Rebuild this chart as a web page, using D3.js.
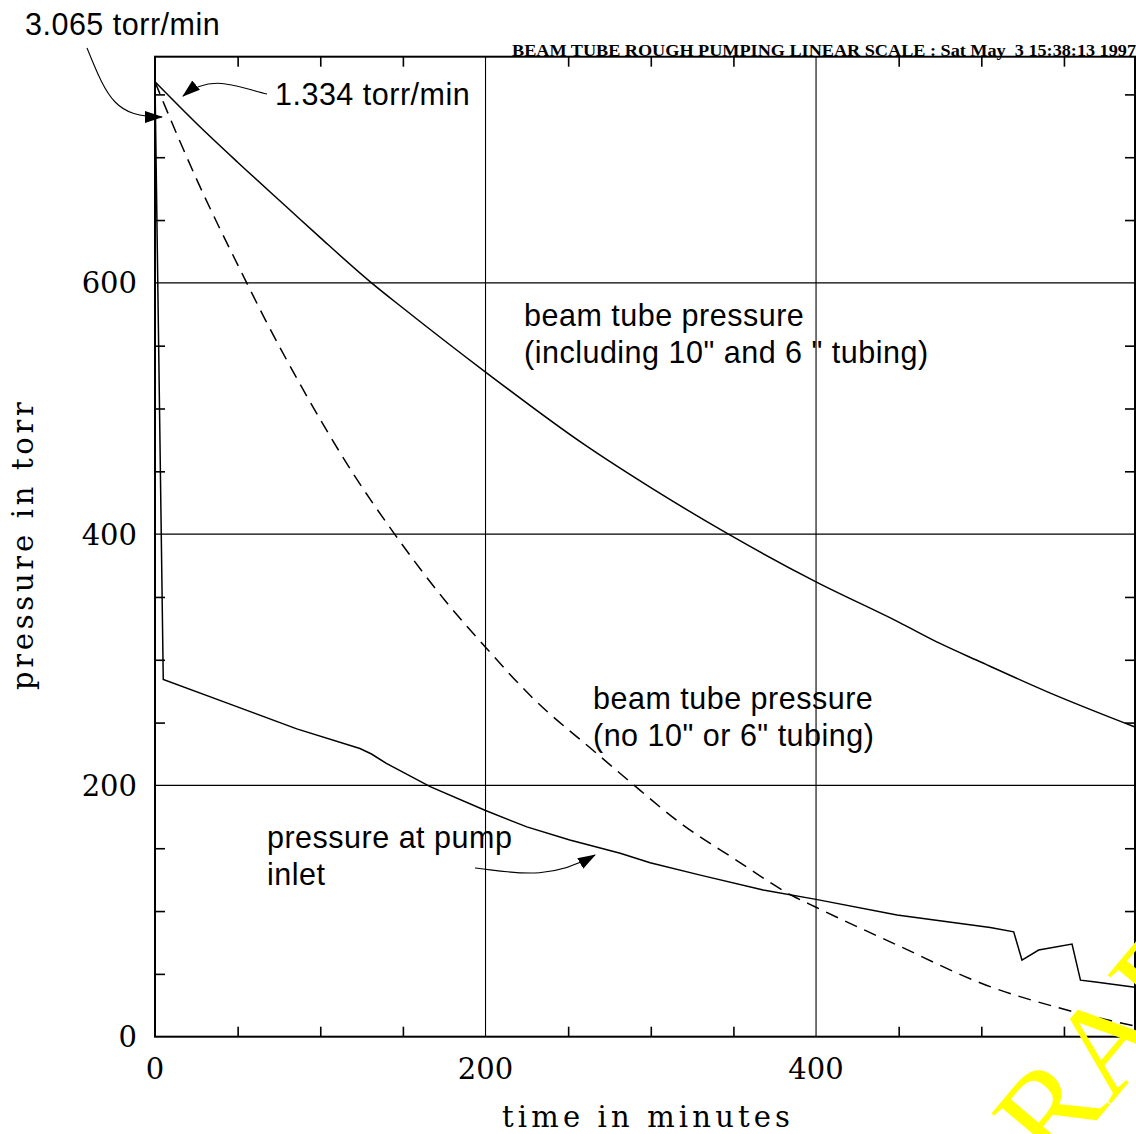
<!DOCTYPE html>
<html>
<head>
<meta charset="utf-8">
<script src="https://cdn.jsdelivr.net/npm/d3@7"></script>
<style>
  html, body { margin: 0; padding: 0; background: #fff; }
  svg { display: block; }
</style>
</head>
<body>
<svg id="chart" width="1136" height="1134"></svg>
<script>
// Beam tube rough pumping, linear scale: pressure (torr) versus time (minutes)

// beam tube pressure including the 10" and 6" tubing
const tubingTime = [0, 25, 50, 80, 100, 131, 150, 200, 259, 300, 347, 400, 450, 475, 500, 540, 593];
const tubingPressure = [760, 727, 696, 660, 636, 600, 580, 529, 472, 437, 400, 362, 330, 313, 298, 274.5, 246.5];

// beam tube pressure without the 10" or 6" tubing
const bareTime = [0, 5, 25, 55.5, 66.6, 88.8, 120, 145, 175, 200, 229, 265, 281.5, 290, 320, 350, 386, 400, 449, 503, 548, 593];
const barePressure = [760, 744, 683, 600, 571, 517, 448, 400, 348, 310, 269, 228, 209.5, 200, 168, 142, 112, 103, 73, 41, 22.6, 8.5];

// pressure at the pump inlet
const inletTime = [0, 5, 45.4, 85.8, 124, 131, 140, 166.5, 200, 225, 251, 281.5, 299.6, 330, 368, 400, 449, 505.4, 519.6, 524.6, 534.7, 554.9, 560, 568, 593];
const inletPressure = [760, 284.3, 264.7, 245, 229.4, 225, 217.5, 199, 180, 167, 156.5, 146, 138.5, 128.6, 116.7, 109.3, 96.8, 87, 83.5, 61, 69, 73.7, 45, 43.8, 39.3];

// axes
const timeDomain = [0, 593];
const pressureDomain = [0, 780];
const timeLabels = [0, 200, 400];
const pressureLabels = [0, 200, 400, 600];
const timeMinorTicks = [50, 100, 150, 250, 300, 350, 450, 500, 550];
const pressureMinorTicks = [50, 100, 150, 250, 300, 350, 450, 500, 550, 650, 700, 750];
const timeGrid = [200, 400];
const pressureGrid = [200, 400, 600];

const titleText = "BEAM TUBE ROUGH PUMPING LINEAR SCALE : Sat May  3 15:38:13 1997";
const xTitle = "time in minutes";
const yTitle = "pressure in torr";

const svg = d3.select("#chart");
const plotLeft = 155, plotRight = 1135, plotTop = 56.7, plotBottom = 1036.7;

const x = d3.scaleLinear().domain(timeDomain).range([plotLeft, plotRight]);
const y = d3.scaleLinear().domain(pressureDomain).range([plotBottom, plotTop]);

const serif = "'DejaVu Serif', 'Liberation Serif', serif";
const sans = "'Liberation Sans', Arial, Helvetica, sans-serif";

// grid lines at the labelled values
svg.append("g").selectAll("line").data(timeGrid).join("line")
  .attr("x1", d => x(d)).attr("x2", d => x(d))
  .attr("y1", plotTop).attr("y2", plotBottom)
  .attr("stroke", "#000").attr("stroke-width", 1.1);
svg.append("g").selectAll("line").data(pressureGrid).join("line")
  .attr("x1", plotLeft).attr("x2", plotRight)
  .attr("y1", d => y(d)).attr("y2", d => y(d))
  .attr("stroke", "#000").attr("stroke-width", 1.1);

// inward minor ticks on all four sides
const tickLen = 10;
function ticks(axisGen, transform) {
  const g = svg.append("g").attr("transform", transform).call(axisGen);
  g.select(".domain").remove();
  g.selectAll(".tick line").attr("stroke", "#000").attr("stroke-width", 1.6);
  g.selectAll(".tick text").remove();
}
ticks(d3.axisBottom(x).tickValues(timeMinorTicks).tickSize(-tickLen), `translate(0,${plotBottom})`);
ticks(d3.axisTop(x).tickValues(timeMinorTicks).tickSize(-tickLen), `translate(0,${plotTop})`);
ticks(d3.axisLeft(y).tickValues(pressureMinorTicks).tickSize(-tickLen), `translate(${plotLeft},0)`);
ticks(d3.axisRight(y).tickValues(pressureMinorTicks).tickSize(-tickLen), `translate(${plotRight},0)`);

// frame
svg.append("rect")
  .attr("x", plotLeft).attr("y", plotTop)
  .attr("width", plotRight - plotLeft).attr("height", plotBottom - plotTop)
  .attr("fill", "none").attr("stroke", "#000").attr("stroke-width", 2);

// tick labels
svg.append("g").selectAll("text").data(timeLabels).join("text")
  .attr("x", d => x(d)).attr("y", 1079)
  .attr("text-anchor", "middle")
  .attr("font-family", serif).attr("font-size", 29)
  .text(d => d);
svg.append("g").selectAll("text").data(pressureLabels).join("text")
  .attr("x", 137).attr("y", d => y(d) + 10.5)
  .attr("text-anchor", "end")
  .attr("font-family", serif).attr("font-size", 29)
  .text(d => d);

// axis titles
svg.append("text")
  .attr("x", 502).attr("y", 1127)
  .attr("font-family", serif).attr("font-size", 29)
  .attr("textLength", 288).attr("lengthAdjust", "spacing")
  .text(xTitle);
svg.append("text")
  .attr("transform", "translate(33,690) rotate(-90)")
  .attr("font-family", serif).attr("font-size", 29)
  .attr("textLength", 288).attr("lengthAdjust", "spacing")
  .text(yTitle);

// heading sitting on the top frame line
svg.append("text")
  .attr("x", 512).attr("y", 56)
  .attr("font-family", "'Liberation Serif', serif").attr("font-size", 16)
  .attr("font-weight", "bold")
  .style("white-space", "pre")
  .attr("textLength", 624).attr("lengthAdjust", "spacingAndGlyphs")
  .text(titleText);

// curves
const zip = (ts, ps) => ts.map((t, i) => ({ t, p: ps[i] }));
const smooth = d3.line().x(d => x(d.t)).y(d => y(d.p)).curve(d3.curveMonotoneX);
const straight = d3.line().x(d => x(d.t)).y(d => y(d.p));

svg.append("path").datum(zip(tubingTime, tubingPressure))
  .attr("d", smooth).attr("fill", "none")
  .attr("stroke", "#000").attr("stroke-width", 1.5);
svg.append("path").datum(zip(bareTime, barePressure))
  .attr("d", smooth).attr("fill", "none")
  .attr("stroke", "#000").attr("stroke-width", 1.5)
  .attr("stroke-dasharray", "13,8");
svg.append("path").datum(zip(inletTime, inletPressure))
  .attr("d", straight).attr("fill", "none")
  .attr("stroke", "#000").attr("stroke-width", 1.5);

// annotations with arrows
const defs = svg.append("defs");
defs.append("marker")
  .attr("id", "head").attr("viewBox", "0 0 18 12")
  .attr("refX", 17).attr("refY", 6)
  .attr("markerWidth", 18).attr("markerHeight", 12)
  .attr("markerUnits", "userSpaceOnUse")
  .attr("orient", "auto")
  .append("path").attr("d", "M0,0 L18,6 L0,12 Z").attr("fill", "#000");

const arrows = [
  "M87,48 C108,100 116,117 162,117",
  "M267,94 C240,88 212,72 183,96",
  "M475,868 C512,872 548,882 595,855"
];
svg.append("g").selectAll("path").data(arrows).join("path")
  .attr("d", d => d).attr("fill", "none")
  .attr("stroke", "#000").attr("stroke-width", 1.1)
  .attr("marker-end", "url(#head)");

const notes = [
  { x: 25, y: 35, lines: ["3.065 torr/min"] },
  { x: 275, y: 105, lines: ["1.334 torr/min"] },
  { x: 524, y: 326, lines: ["beam tube pressure", "(including 10\" and 6 \" tubing)"] },
  { x: 593, y: 709, lines: ["beam tube pressure", "(no 10\" or 6\" tubing)"] },
  { x: 267, y: 848, lines: ["pressure at pump", "inlet"] }
];
const noteG = svg.append("g")
  .attr("font-family", sans).attr("font-size", 30.5)
  .attr("letter-spacing", 0.5);
notes.forEach(n => {
  const t = noteG.append("text").attr("x", n.x).attr("y", n.y);
  n.lines.forEach((l, i) => {
    t.append("tspan").attr("x", n.x).attr("dy", i === 0 ? 0 : 37).text(l);
  });
});

// stamp in the lower right corner
svg.append("text")
  .attr("transform", "translate(994,1243) rotate(-50)")
  .attr("font-family", "'Liberation Serif', serif").attr("font-size", 130)
  .attr("fill", "#ffff00")
  .text("DRAFT");
</script>
</body>
</html>
